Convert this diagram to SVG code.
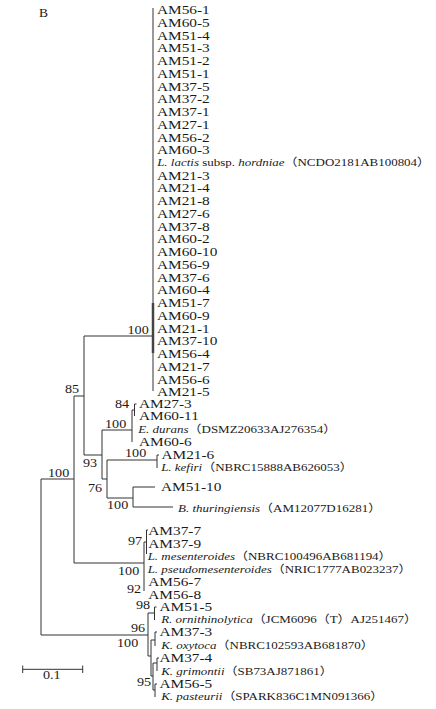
<svg xmlns="http://www.w3.org/2000/svg" width="436" height="709" viewBox="0 0 436 709">
<style>
.t{font-family:"Liberation Serif","Times New Roman","Noto Sans CJK SC",serif;fill:#1a1a1a;transform-box:fill-box;transform-origin:0 0;transform:scaleX(1.18)}
.am{font-size:13px}
.sp{font-size:11px}
.bs{font-size:12px}
.i{font-style:italic}
.ln{stroke:#333;stroke-width:1;fill:none}
</style>
<rect width="436" height="709" fill="#fff"/>
<text x="39" y="17" style="font-family:'Liberation Serif',serif;font-size:13.5px;fill:#1a1a1a">B</text>

<g id="connectors" class="ln">
<path d="M153,8V391M84,336H153M84,336V455M74,396H84M74,396V563M41,479H74M41,479V635M41,635H148"/>
<path d="M153,303V353" style="stroke-width:2.5;stroke:#444"/>
<path d="M84,455H102M102,430V479M102,430H132M132,410V442M132,410H134.5M134.5,404V416M134.5,404H136.5"/>
<path d="M102,479H107M107,460V498M107,460H157M157,455V468M157,455H159M107,498H133M133,487V507M133,487H155M133,507H173"/>
<path d="M74,563H144M144,542V591M144,542H146.5M146.5,530V554M146.5,530H148"/>
<path d="M148,613V656M148,613H154.5M154.5,607V620M154.5,607H156.5M148,656H151M151,640V676M151,640H155M155,632V646M155,632H157M151,676H153M153,663V690M153,663H157M157,658V671M157,658H159M153,690H155M155,684V697M155,684H157"/>
<path d="M22.7,669.3H82.7M22.7,665.5V673M82.7,665.5V673"/>
</g>

<g id="scale-bar"><text class="t bs" x="43" y="679">0.1</text></g>

<g id="bootstrap">
<text class="t bs" x="127.5" y="334">100</text>
<text class="t bs" x="65" y="393">85</text>
<text class="t bs" x="48" y="477.5">100</text>
<text class="t bs" x="115" y="408">84</text>
<text class="t bs" x="105" y="428">100</text>
<text class="t bs" x="125" y="457">100</text>
<text class="t bs" x="83" y="467">93</text>
<text class="t bs" x="88" y="492">76</text>
<text class="t bs" x="107" y="509">100</text>
<text class="t bs" x="128" y="545">97</text>
<text class="t bs" x="118" y="575">100</text>
<text class="t bs" x="127" y="593">92</text>
<text class="t bs" x="136" y="609">98</text>
<text class="t bs" x="131" y="632">96</text>
<text class="t bs" x="117" y="647">100</text>
<text class="t bs" x="137" y="686">95</text>
</g>

<g id="clade-lactococcus">
<text class="t am" x="157" y="14.3">AM56-1</text>
<text class="t am" x="157" y="27">AM60-5</text>
<text class="t am" x="157" y="39.8">AM51-4</text>
<text class="t am" x="157" y="52.5">AM51-3</text>
<text class="t am" x="157" y="65.2">AM51-2</text>
<text class="t am" x="157" y="78">AM51-1</text>
<text class="t am" x="157" y="90.7">AM37-5</text>
<text class="t am" x="157" y="103.4">AM37-2</text>
<text class="t am" x="157" y="116.1">AM37-1</text>
<text class="t am" x="157" y="128.9">AM27-1</text>
<text class="t am" x="157" y="141.6">AM56-2</text>
<text class="t am" x="157" y="154.3">AM60-3</text>
<text class="t sp" x="157" y="166.5"><tspan class="i">L. lactis</tspan> subsp. <tspan class="i">hordniae</tspan>（NCDO2181AB100804）</text>
<text class="t am" x="157" y="179.8">AM21-3</text>
<text class="t am" x="157" y="192.5">AM21-4</text>
<text class="t am" x="157" y="205.3">AM21-8</text>
<text class="t am" x="157" y="218">AM27-6</text>
<text class="t am" x="157" y="230.7">AM37-8</text>
<text class="t am" x="157" y="243.4">AM60-2</text>
<text class="t am" x="157" y="256.2">AM60-10</text>
<text class="t am" x="157" y="268.9">AM56-9</text>
<text class="t am" x="157" y="281.6">AM37-6</text>
<text class="t am" x="157" y="294.4">AM60-4</text>
<text class="t am" x="157" y="307.1">AM51-7</text>
<text class="t am" x="157" y="319.8">AM60-9</text>
<text class="t am" x="157" y="332.6">AM21-1</text>
<text class="t am" x="157" y="345.3">AM37-10</text>
<text class="t am" x="157" y="358">AM56-4</text>
<text class="t am" x="157" y="370.7">AM21-7</text>
<text class="t am" x="157" y="383.5">AM56-6</text>
<text class="t am" x="157" y="396.2">AM21-5</text>
</g>

<g id="clade-enterococcus">
<text class="t am" x="139" y="408.3">AM27-3</text>
<text class="t am" x="139" y="420.3">AM60-11</text>
<text class="t sp" x="138" y="433"><tspan class="i">E. durans</tspan>（DSMZ20633AJ276354）</text>
<text class="t am" x="139" y="446">AM60-6</text>
</g>

<g id="clade-kefiri">
<text class="t am" x="161.5" y="459.3">AM21-6</text>
<text class="t sp" x="161" y="470.7"><tspan class="i">L. kefiri</tspan>（NBRC15888AB626053）</text>
</g>

<g id="clade-bacillus">
<text class="t am" x="161" y="491.3">AM51-10</text>
<text class="t sp" x="178" y="512"><tspan class="i">B. thuringiensis</tspan>（AM12077D16281）</text>
</g>

<g id="clade-leuconostoc">
<text class="t am" x="148.3" y="535">AM37-7</text>
<text class="t am" x="148.3" y="547.6">AM37-9</text>
<text class="t sp" x="147.5" y="560.4"><tspan class="i">L. mesenteroides</tspan>（NBRC100496AB681194）</text>
<text class="t sp" x="147.5" y="573"><tspan class="i">L. pseudomesenteroides</tspan>（NRIC1777AB023237）</text>
<text class="t am" x="148.3" y="586">AM56-7</text>
<text class="t am" x="148.3" y="599.3">AM56-8</text>
</g>

<g id="clade-enterobacteria">
<text class="t am" x="159.5" y="610.8">AM51-5</text>
<text class="t sp" x="161" y="622.7"><tspan class="i">R. ornithinolytica</tspan>（JCM6096（T）AJ251467）</text>
<text class="t am" x="159.5" y="636.3">AM37-3</text>
<text class="t sp" x="161" y="648.7"><tspan class="i">K. oxytoca</tspan>（NBRC102593AB681870）</text>
<text class="t am" x="159.5" y="662.3">AM37-4</text>
<text class="t sp" x="161" y="674.7"><tspan class="i">K. grimontii</tspan>（SB73AJ871861）</text>
<text class="t am" x="159.5" y="688">AM56-5</text>
<text class="t sp" x="161" y="699.7"><tspan class="i">K. pasteurii</tspan>（SPARK836C1MN091366）</text>
</g>
</svg>
